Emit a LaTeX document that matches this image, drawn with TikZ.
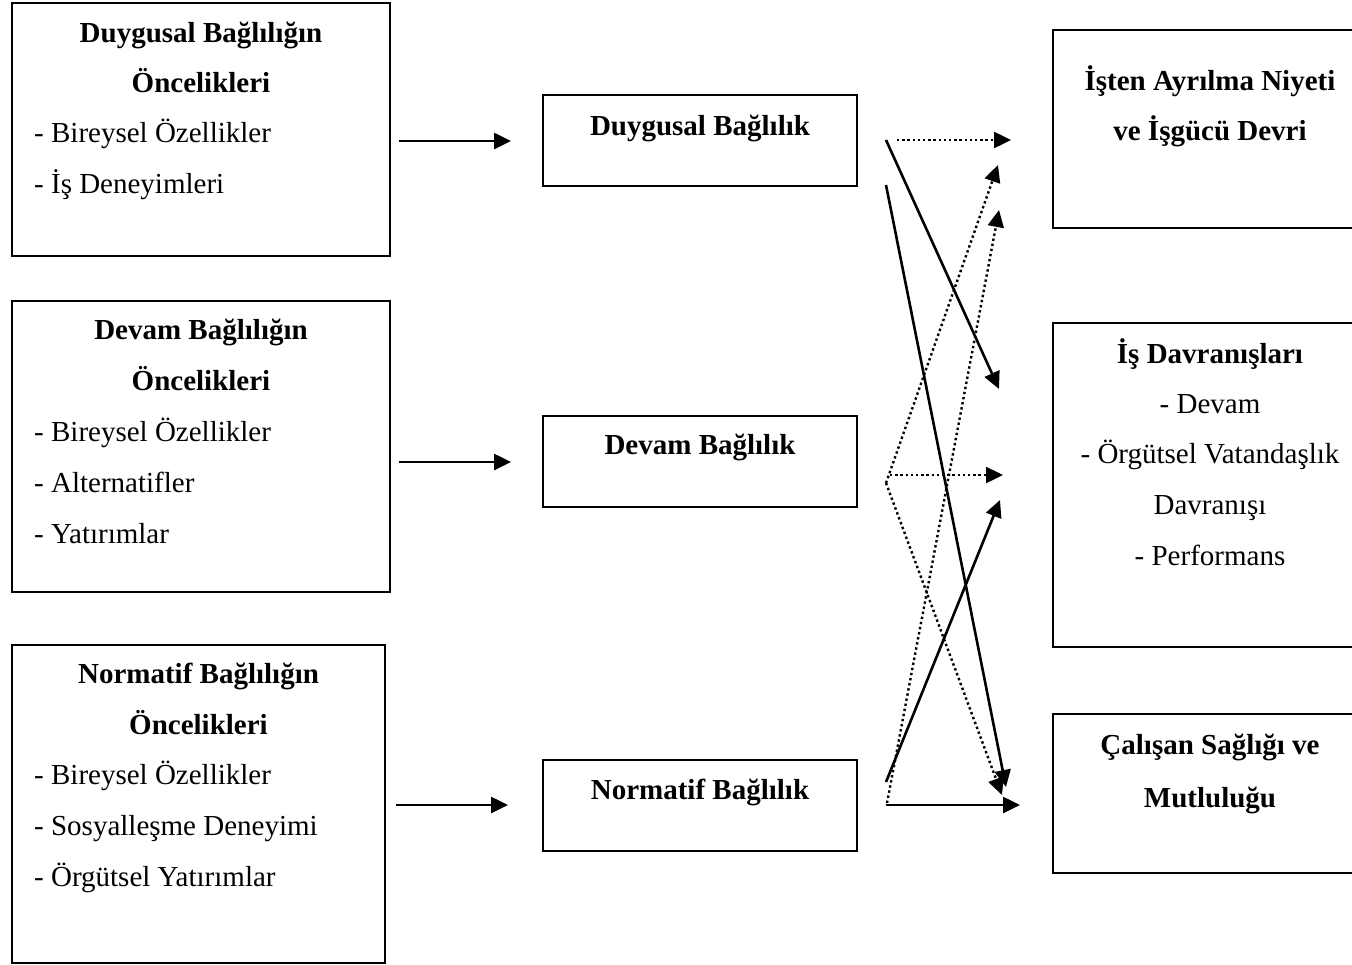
\documentclass[tikz,border=0pt]{standalone}
\usepackage{fontspec}
\setmainfont{Liberation Serif}
\usetikzlibrary{arrows.meta}
\tikzset{
  box/.style={draw, line width=1.7pt, inner sep=0pt},
  txt/.style={inner sep=0pt, anchor=base, font=\fontsize{29}{34}\selectfont},
  ttl/.style={txt, font=\fontsize{29}{34}\selectfont\bfseries},
  itm/.style={txt, anchor=base west},
  arr/.style={line width=2.6pt, -{Triangle[length=17pt,width=16pt]}},
  dotarr/.style={line width=2.4pt, dash pattern=on 2.4pt off 2.8pt, -{Triangle[length=17pt,width=16pt]}}
}
\begin{document}
\begin{tikzpicture}[x=1pt,y=-1pt]
\clip (0,0) rectangle (1352,964);
\fill[white] (0,0) rectangle (1352,964);
% left boxes
\node[box, minimum width=378pt, minimum height=253pt] (A) at (201,129.5) {};
\node[box, minimum width=378pt, minimum height=291pt] (B) at (201,446.5) {};
\node[box, minimum width=373pt, minimum height=318pt] (C) at (198.5,804) {};
% middle boxes
\node[box, minimum width=314pt, minimum height=91pt] (M1) at (700,140.5) {};
\node[box, minimum width=314pt, minimum height=91pt] (M2) at (700,461.5) {};
\node[box, minimum width=314pt, minimum height=91pt] (M3) at (700,805.5) {};
% right boxes
\node[box, minimum width=307pt, minimum height=198pt] (R1) at (1206.5,129) {};
\node[box, minimum width=307pt, minimum height=324pt] (R2) at (1206.5,485) {};
\node[box, minimum width=307pt, minimum height=159pt] (R3) at (1206.5,793.5) {};
% texts left
\node[ttl] (a1) at (201,42) {Duygusal Bağlılığın};
\node[ttl] (a2) at (201,92) {Öncelikleri};
\node[itm] (a3) at (34,142) {- Bireysel Özellikler};
\node[itm] (a4) at (34,193) {- İş Deneyimleri};
\node[ttl] (b1) at (201,339) {Devam Bağlılığın};
\node[ttl] (b2) at (201,390) {Öncelikleri};
\node[itm] (b3) at (34,441) {- Bireysel Özellikler};
\node[itm] (b4) at (34,492) {- Alternatifler};
\node[itm] (b5) at (34,543) {- Yatırımlar};
\node[ttl] (c1) at (198.5,683) {Normatif Bağlılığın};
\node[ttl] (c2) at (198.5,734) {Öncelikleri};
\node[itm] (c3) at (34,784) {- Bireysel Özellikler};
\node[itm] (c4) at (34,835) {- Sosyalleşme Deneyimi};
\node[itm] (c5) at (34,886) {- Örgütsel Yatırımlar};
% texts middle
\node[ttl] (m1) at (700,135) {Duygusal Bağlılık};
\node[ttl] (m2) at (700,454) {Devam Bağlılık};
\node[ttl] (m3) at (700,799) {Normatif Bağlılık};
% texts right
\node[ttl] (r1a) at (1210,90) {İşten Ayrılma Niyeti};
\node[ttl] (r1b) at (1210,140) {ve İşgücü Devri};
\node[ttl] (r2a) at (1210,363) {İş Davranışları};
\node[txt] (r2b) at (1210,413) {- Devam};
\node[txt] (r2c) at (1210,463) {- Örgütsel Vatandaşlık};
\node[txt] (r2d) at (1210,514) {Davranışı};
\node[txt] (r2e) at (1210,565) {- Performans};
\node[ttl] (r3a) at (1210,754) {Çalışan Sağlığı ve};
\node[ttl] (r3b) at (1210,807) {Mutluluğu};
% connector end points
\coordinate (pA) at (399,141); \coordinate (qA) at (511,141);
\coordinate (pB) at (399,462); \coordinate (qB) at (511,462);
\coordinate (pC) at (396,805); \coordinate (qC) at (508,805);
\draw[arr] (pA) -- (qA);
\draw[arr] (pB) -- (qB);
\draw[arr] (pC) -- (qC);
% from middle to right
\coordinate (d1) at (886,140);
\coordinate (d2) at (886,185);
\coordinate (d3) at (897,140);
\coordinate (v0) at (886,483);
\coordinate (v1) at (890,475);
\coordinate (n1) at (886,782);
\coordinate (n2) at (887,803);
\coordinate (n3) at (886,805);
\coordinate (t1) at (1011,140);
\coordinate (t2) at (998,165);
\coordinate (t3) at (999,210);
\coordinate (s1) at (999,389);
\coordinate (s2) at (1003,475);
\coordinate (s3) at (1000,500);
\coordinate (h1) at (1006,787);
\coordinate (h2) at (1002,795);
\coordinate (h3) at (1020,805);
\draw[dotarr] (d3) -- (t1);
\draw[arr] (d1) -- (s1);
\draw[arr] (d2) -- (h1);
\draw[dotarr] (v0) -- (t2);
\draw[dotarr] (v1) -- (s2);
\draw[dotarr] (v0) -- (h2);
\draw[arr] (n1) -- (s3);
\draw[dotarr] (n2) -- (t3);
\draw[arr] (n3) -- (h3);
\end{tikzpicture}
\end{document}
